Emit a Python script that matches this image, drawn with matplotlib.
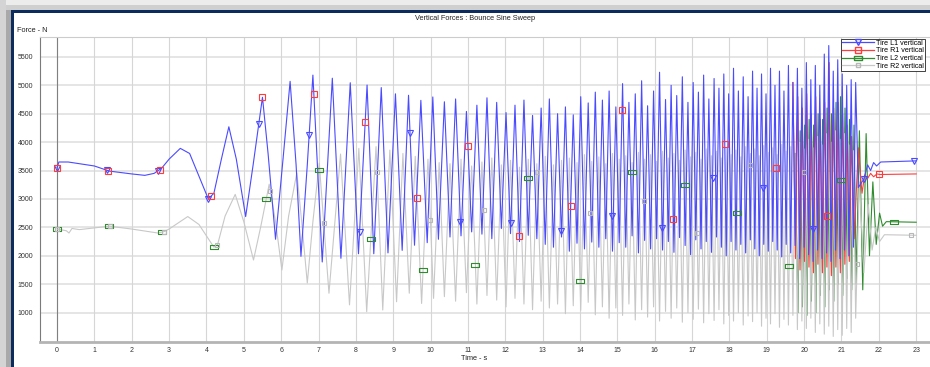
import numpy as np
import matplotlib
matplotlib.use("Agg")
import matplotlib.pyplot as plt
from matplotlib.lines import Line2D
from matplotlib.patches import Rectangle

plt.rcParams['font.family'] = ['Liberation Sans', 'DejaVu Sans']

# ---- data (time in s, force in N) ----
# slow start of the sweep, Tire L1 (Tire R1 is the same here)
l1_early_t = [0.0, 0.05, 0.3, 0.7, 1.0, 1.4, 2.0, 2.35, 2.6, 2.8,
              3.0, 3.3, 3.55, 3.8, 4.05, 4.2, 4.4, 4.6, 4.8, 5.05,
              5.25, 5.5, 5.65, 5.85, 6.05, 6.24, 6.4, 6.53, 6.7, 6.85,
              7.10, 7.37, 7.60, 7.85, 8.07, 8.30, 8.48, 8.68, 8.86, 9.06,
              9.24, 9.41, 9.57, 9.74, 9.91, 10.06, 10.21]
l1_early_v = [3550, 3650, 3650, 3610, 3580, 3490, 3440, 3415, 3450, 3540,
              3700, 3890, 3800, 3400, 3000, 3100, 3700, 4270, 3700, 2690,
              3600, 4790, 3800, 2290, 3700, 5070, 3600, 1990, 3600, 5180,
              1890, 5125, 1955, 5045, 2035, 5005, 2035, 4960, 2050, 4850,
              2095, 4825, 2185, 4735, 2230, 4795, 2290]

# slow start, Tire R2 (Tire L2 is the same here)
r2_early_t = [0.0, 0.25, 0.32, 0.4, 0.6, 1.0, 1.4, 2.0, 2.7, 2.85,
              3.0, 3.5, 3.8, 4.2, 4.3, 4.5, 4.77, 5.0, 5.26, 5.45,
              5.68, 5.85, 6.02, 6.2, 6.42, 6.55, 6.70, 6.85, 7.02, 7.28,
              7.59, 7.83, 8.08, 8.29, 8.54, 8.72, 8.91, 9.09, 9.26, 9.43,
              9.59, 9.76, 9.93, 10.08, 10.23]
r2_early_v = [2470, 2440, 2400, 2480, 2460, 2490, 2520, 2470, 2400, 2420,
              2470, 2690, 2550, 2150, 2200, 2700, 3080, 2600, 1925, 2500,
              3260, 2600, 1750, 2700, 3460, 2600, 1520, 2600, 3630, 1340,
              3790, 1135, 3890, 1015, 3920, 1045, 3860, 1190, 3800, 1340,
              3750, 1160, 3700, 1250, 3640]

# fast part of the sweep: times of the L1 peaks / troughs
dense_t = [10.37, 10.52, 10.67, 10.815, 10.96, 11.10, 11.24, 11.375, 11.51, 11.64,
           11.77, 11.895, 12.02, 12.14, 12.26, 12.38, 12.50, 12.615, 12.73, 12.845,
           12.96, 13.07, 13.18, 13.29, 13.40, 13.505, 13.61, 13.715, 13.82, 13.92,
           14.02, 14.12, 14.22, 14.315, 14.41, 14.505, 14.60, 14.69, 14.78, 14.87,
           14.96, 15.05, 15.14, 15.225, 15.31, 15.395, 15.48, 15.565, 15.65, 15.73,
           15.81, 15.89, 15.97, 16.05, 16.13, 16.21, 16.29, 16.365, 16.44, 16.515,
           16.59, 16.665, 16.74, 16.815, 16.89, 16.96, 17.03, 17.10, 17.17, 17.24,
           17.31, 17.38, 17.45, 17.52, 17.59, 17.655, 17.72, 17.785, 17.85, 17.915,
           17.98, 18.045, 18.11, 18.175, 18.24, 18.305, 18.37, 18.435, 18.50, 18.56,
           18.62, 18.68, 18.74, 18.80, 18.86, 18.92, 18.98, 19.04, 19.10, 19.16,
           19.22, 19.28, 19.34, 19.40, 19.46, 19.52, 19.58, 19.64, 19.70, 19.76,
           19.82, 19.88, 19.94, 20.00, 20.06, 20.12, 20.18, 20.24, 20.30, 20.36,
           20.42, 20.48, 20.54, 20.60, 20.66, 20.72, 20.78, 20.84, 20.90, 20.96,
           21.02, 21.08, 21.14, 21.20, 21.26, 21.32, 21.38]
l1_dense = [4710, 2330, 4760, 2350, 4540, 2420, 4650, 2380, 4780, 2300,
            4700, 2480, 4520, 2390, 4650, 2250, 4740, 2360, 4470, 2300,
            4600, 2200, 4760, 2150, 4500, 2330, 4620, 2080, 4480, 2220,
            4800, 2120, 4690, 2240, 4880, 2150, 4740, 2300, 4900, 2080,
            4620, 2230, 5030, 2150, 4700, 2350, 4850, 2050, 5080, 2270,
            4640, 2120, 4900, 2300, 5230, 2100, 4750, 2250, 5000, 2060,
            4820, 2320, 5150, 2180, 4700, 2020, 5050, 2280, 4880, 2120,
            5180, 2250, 4760, 2060, 5120, 2330, 4950, 2150, 5200, 2000,
            4850, 2250, 5300, 2100, 4900, 2200, 5150, 2050, 4800, 2280,
            5250, 2120, 4950, 2000, 5200, 2200, 4850, 2080, 5300, 2250,
            5000, 2100, 5250, 1980, 4900, 2200, 5350, 2050, 5050, 2180,
            5300, 1950, 4950, 2150, 5400, 2020, 5100, 1900, 5350, 2100,
            5000, 1950, 5550, 2050, 5700, 1900, 5250, 2100, 5450, 1950,
            5200, 2100, 5000, 2000, 5100, 2150, 5050]
r2_dense = [1280, 3620, 1200, 3700, 1350, 3580, 1150, 3650, 1300, 3720,
            1220, 3600, 1100, 3680, 1250, 3560, 1150, 3700, 1050, 3620,
            1200, 3750, 1080, 3600, 1150, 3680, 980, 3720, 1120, 3640,
            1040, 3780, 1180, 3660, 960, 3740, 1100, 3620, 900, 3800,
            1080, 3700, 950, 3760, 1150, 3640, 870, 3820, 1050, 3700,
            920, 3780, 1100, 3660, 850, 3840, 1020, 3720, 900, 3800,
            1080, 3680, 830, 3860, 1000, 3740, 880, 3820, 1060, 3700,
            820, 3880, 980, 3760, 860, 3840, 1050, 3720, 800, 3900,
            950, 3780, 850, 3860, 1000, 3740, 780, 3920, 940, 3800,
            840, 3880, 1000, 3760, 760, 3940, 900, 3820, 800, 3900,
            980, 3780, 740, 3960, 880, 3840, 780, 3920, 950, 3800,
            700, 4000, 850, 3880, 720, 4050, 900, 3900, 650, 4100,
            800, 3950, 620, 4150, 760, 4000, 580, 4200, 700, 4050,
            600, 4150, 720, 3950, 650, 3850, 900]

# end of the run, where the four tires part ways
l1_tail_t = [21.45, 21.60, 21.70, 21.78, 21.86, 21.94, 22.05, 22.30, 23.0]
l1_tail_v = [3200, 3350, 3600, 3500, 3640, 3580, 3650, 3655, 3670]

r1_tail_t = [19.77, 19.83, 19.89, 19.95, 20.01, 20.07, 20.13, 20.19, 20.25, 20.31,
             20.37, 20.43, 20.49, 20.55, 20.61, 20.67, 20.73, 20.79, 20.85, 20.91,
             20.97, 21.03, 21.09, 21.15, 21.21, 21.27, 21.34, 21.45, 21.55, 21.62,
             21.70, 21.78, 21.86, 21.95, 22.03, 23.0]
r1_tail_v = [1950, 4800, 1750, 4600, 1900, 4850, 1800, 4500, 1700, 4800,
             1850, 4400, 1700, 4700, 1800, 5400, 1650, 4600, 1800, 4700,
             1700, 4500, 1850, 4300, 1900, 4100, 2300, 3900, 3100, 3420,
             3360, 3450, 3390, 3440, 3430, 3440]

l2_tail_t = [19.835, 19.895, 19.955, 20.015, 20.075, 20.135, 20.195, 20.255, 20.315, 20.375,
             20.435, 20.495, 20.555, 20.615, 20.675, 20.735, 20.795, 20.855, 20.915, 20.975,
             21.035, 21.095, 21.155, 21.215, 21.275, 21.335, 21.395, 21.48, 21.57, 21.66,
             21.75, 21.84, 21.93, 22.02, 22.10, 22.20, 23.0]
l2_tail_v = [1000, 4200, 1100, 4300, 950, 4400, 1200, 4300, 1000, 4500,
             1300, 4400, 1100, 4600, 1400, 4500, 1200, 4700, 1500, 4800,
             1300, 4600, 1600, 4400, 1400, 4300, 1500, 4200, 1400, 4150,
             2000, 3300, 2200, 2750, 2520, 2600, 2590]

r2_tail_t = [21.48, 21.60, 21.72, 21.82, 21.92, 22.02, 22.15, 23.0]
r2_tail_v = [3300, 1700, 2900, 2100, 2500, 2250, 2370, 2360]

labels = ['Tire L1 vertical', 'Tire R1 vertical', 'Tire L2 vertical', 'Tire R2 vertical']
x_ticks = list(range(0, 24))
y_ticks = list(range(1000, 6000, 500))

# ---- assemble series ----
n_r1 = np.searchsorted(dense_t, 19.72)
n_l2 = np.searchsorted(dense_t, 19.80)

l1_t = np.concatenate([l1_early_t, dense_t, l1_tail_t])
l1_v = np.concatenate([l1_early_v, l1_dense, l1_tail_v])
r1_t = np.concatenate([l1_early_t, dense_t[:n_r1], r1_tail_t])
r1_v = np.concatenate([l1_early_v, l1_dense[:n_r1], r1_tail_v])
r2_t = np.concatenate([r2_early_t, dense_t, r2_tail_t])
r2_v = np.concatenate([r2_early_v, r2_dense, r2_tail_v])
l2_t = np.concatenate([r2_early_t, dense_t[:n_l2], l2_tail_t])
l2_v = np.concatenate([r2_early_v, r2_dense[:n_l2], l2_tail_v])

# R1 / L2 lie exactly under L1 / R2 until they part; only draw the visible part
r1_from = len(l1_early_t) + n_r1 - 1
l2_from = len(r2_early_t) + n_l2 - 1

W, H = 930, 367
fig = plt.figure(figsize=(W / 100, H / 100), dpi=100)
fig.patch.set_facecolor('white')

# window frame look
fig.add_artist(Rectangle((0, 1 - 5 / H), 1, 5 / H, transform=fig.transFigure, color='#ececec', lw=0))
fig.add_artist(Rectangle((0, 1 - 10 / H), 1, 5 / H, transform=fig.transFigure, color='#cfcfcf', lw=0))
fig.add_artist(Rectangle((0, 0), 6 / W, 1, transform=fig.transFigure, color='#d4d4d4', lw=0))
fig.add_artist(Rectangle((6 / W, 0), 5 / W, 1 - 10 / H, transform=fig.transFigure, color='#a9a9a9', lw=0))
fig.add_artist(Rectangle((11 / W, 1 - 12.5 / H), 1, 2.5 / H, transform=fig.transFigure, color='#0c2c5e', lw=0))
fig.add_artist(Rectangle((11 / W, 0), 2.5 / W, 1 - 10 / H, transform=fig.transFigure, color='#0c2c5e', lw=0))

ax = fig.add_axes([39.5 / W, (H - 341.7) / H, 1 - 39.5 / W, (341.7 - 37.3) / H])
ax.set_xlim(-0.469, 23.37)
ax.set_ylim(487, 5845)

blue, red, green, gray = '#4a4aff', '#ff3b3b', '#2e8b2e', '#c8c8c8'
ax.plot(l2_t[l2_from:], l2_v[l2_from:], color=green, lw=0.8, zorder=2.0)
ax.plot(r2_t, r2_v, color=gray, lw=0.8, zorder=2.1)
ax.plot(r1_t[r1_from:], r1_v[r1_from:], color=red, lw=0.8, zorder=2.2)
ax.plot(l1_t, l1_v, color=blue, lw=0.8, zorder=2.3)

# spaced markers sitting on each curve
rect = [(-1, -0.4), (1, -0.4), (1, 0.4), (-1, 0.4), (-1, -0.4)]
mk_specs = [
    (l1_t, l1_v, 1.35, blue, 'v', 4.5),
    (r1_t, r1_v, 1.375, red, 's', 4.0),
    (l2_t, l2_v, 1.40, green, rect, 6.0),
    (r2_t, r2_v, 1.428, '#b8b8b8', 's', 3.0),
]
for t, v, step, c, m, ms in mk_specs:
    mt = np.arange(0, t[-1] + 1e-6, step)
    ax.plot(mt, np.interp(mt, t, v), ls='none', marker=m, ms=ms, mfc='none',
            mec=c, mew=0.8, zorder=3)

# grid and axes styling
for yv in y_ticks:
    ax.axhline(yv, color='#e3e3e3', lw=1.3, zorder=0)
for xv in x_ticks:
    ax.axvline(xv, color='#d6d6d6', lw=0.8, zorder=0)
ax.axvline(0, color='#808080', lw=0.8, zorder=1)

ax.spines['right'].set_visible(False)
ax.spines['top'].set_color('#cccccc')
ax.spines['top'].set_linewidth(0.8)
ax.spines['left'].set_color('#7a7a7a')
ax.spines['left'].set_linewidth(0.8)
ax.spines['bottom'].set_color('#b4b4b4')
ax.spines['bottom'].set_linewidth(2.0)

ax.set_xticks(x_ticks)
ax.set_yticks(y_ticks)
ax.tick_params(axis='both', length=0, labelsize=5, labelcolor='#333333')
ax.tick_params(axis='y', pad=4.5)
ax.tick_params(axis='x', pad=4.0)

fig.text(475 / W, 1 - 18 / H, 'Vertical Forces : Bounce Sine Sweep', ha='center', va='center',
         fontsize=5.3, color='#222222')
fig.text(17 / W, 1 - 30 / H, 'Force - N', ha='left', va='center', fontsize=5.3, color='#222222')
fig.text(474 / W, 1 - 358 / H, 'Time - s', ha='center', va='center', fontsize=5.3, color='#222222')

handles = [
    Line2D([], [], color=blue, lw=0.9, marker='v', ms=4.5, mfc='none', mec=blue),
    Line2D([], [], color=red, lw=0.9, marker='s', ms=4.0, mfc='none', mec=red),
    Line2D([], [], color=green, lw=0.9, marker=rect, ms=6, mfc='none', mec=green),
    Line2D([], [], color=gray, lw=0.9, marker='s', ms=3.0, mfc='none', mec='#b8b8b8'),
]
leg = ax.legend(handles, labels, loc='upper left', bbox_to_anchor=(841 / W, 1 - 39 / H),
                bbox_transform=fig.transFigure, fontsize=5.1, fancybox=False, framealpha=1,
                edgecolor='#222222', borderpad=0.1, labelspacing=0.1, handlelength=4.6,
                handletextpad=0.3, borderaxespad=0, numpoints=1)
leg.get_frame().set_linewidth(0.6)
leg.set_zorder(5)

fig.savefig('out.png', dpi=100)
